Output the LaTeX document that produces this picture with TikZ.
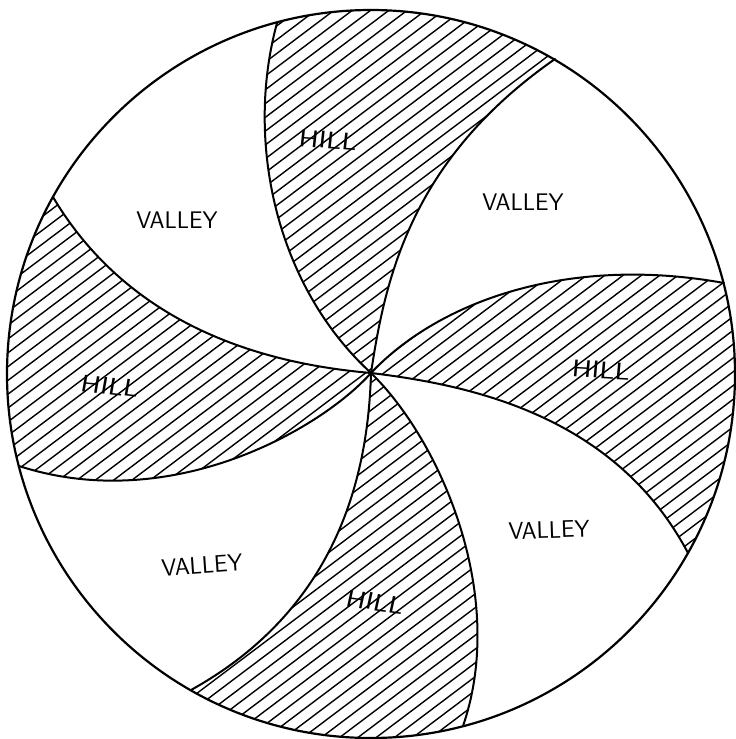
\documentclass[tikz,border=0pt]{standalone}
\usepackage{tikz}
\usetikzlibrary{calc}
\tikzset{
  rim/.style  ={line width=2.2pt, draw=black},
  arm/.style  ={line width=2pt, draw=black, line cap=round},
  hatch/.style={line width=1.4pt, draw=black},
  lbl/.style  ={font=\fontsize{24}{24}\selectfont\sffamily, inner sep=0pt},
  hlbl/.style ={lbl, xscale=1.25},
}

\begin{document}
\begin{tikzpicture}[x=1pt, y=-1pt]
  \useasboundingbox (0,0) rectangle (736,739);
  \coordinate (c)  at (371,374);
  \coordinate (o)  at (371,373);
  \coordinate (r1) at (53,197);
  \coordinate (r2) at (19,466);
  \coordinate (r3) at (191,690);
  \coordinate (r4) at (463,726);
  \coordinate (r5) at (688,553);
  \coordinate (r6) at (724,283);
  \coordinate (r7) at (555,59);
  \coordinate (r8) at (277,23);
  \foreach \i in {1,...,8}
    \coordinate (f\i) at ($(o)!1.8!(r\i)$);

  % hatched hills
  \begin{scope}
    \clip (c) circle (364pt);
    \clip (o) .. controls (280,365) and (135,335) .. (r1) -- (f1) -- (f2)
      -- (r2) .. controls (170,515) and (320,430) .. (o) -- cycle
      (o) .. controls (368,480) and (335,610) .. (r3) -- (f3) -- (f4)
      -- (r4) .. controls (508,595) and (440,440) .. (o) -- cycle
      (o) .. controls (470,385) and (615,415) .. (r5) -- (f5) -- (f6)
      -- (r6) .. controls (570,255) and (440,300) .. (o) -- cycle
      (o) .. controls (385,280) and (410,160) .. (r7) -- (f7) -- (f8)
      -- (r8) .. controls (245,140) and (275,285) .. (o) -- cycle;
    \foreach \b in {0,13.8,...,1310}
      \draw[hatch] (0,\b) -- (736,\b-555);
  \end{scope}

  \draw[arm] (o) .. controls (280,365) and (135,335) .. (r1);
  \draw[arm] (o) .. controls (320,430) and (170,515) .. (r2);
  \draw[arm] (o) .. controls (368,480) and (335,610) .. (r3);
  \draw[arm] (o) .. controls (440,440) and (508,595) .. (r4);
  \draw[arm] (o) .. controls (470,385) and (615,415) .. (r5);
  \draw[arm] (o) .. controls (440,300) and (570,255) .. (r6);
  \draw[arm] (o) .. controls (385,280) and (410,160) .. (r7);
  \draw[arm] (o) .. controls (275,285) and (245,140) .. (r8);
  \draw[rim] (c) circle (364pt);

  \node[lbl]              (v1) at (177,220) {VALLEY};
  \node[lbl]              (v2) at (523,202) {VALLEY};
  \node[lbl, rotate=2]    (v3) at (549,530) {VALLEY};
  \node[lbl, rotate=4]    (v4) at (202,565) {VALLEY};
  \node[hlbl, rotate=-5]  (h1) at (328,140) {HILL};
  \node[hlbl, rotate=-8]  (h2) at (110,386) {HILL};
  \node[hlbl, rotate=-4]  (h3) at (601,370) {HILL};
  \node[hlbl, rotate=-10] (h4) at (375,602) {HILL};
\end{tikzpicture}
\end{document}
